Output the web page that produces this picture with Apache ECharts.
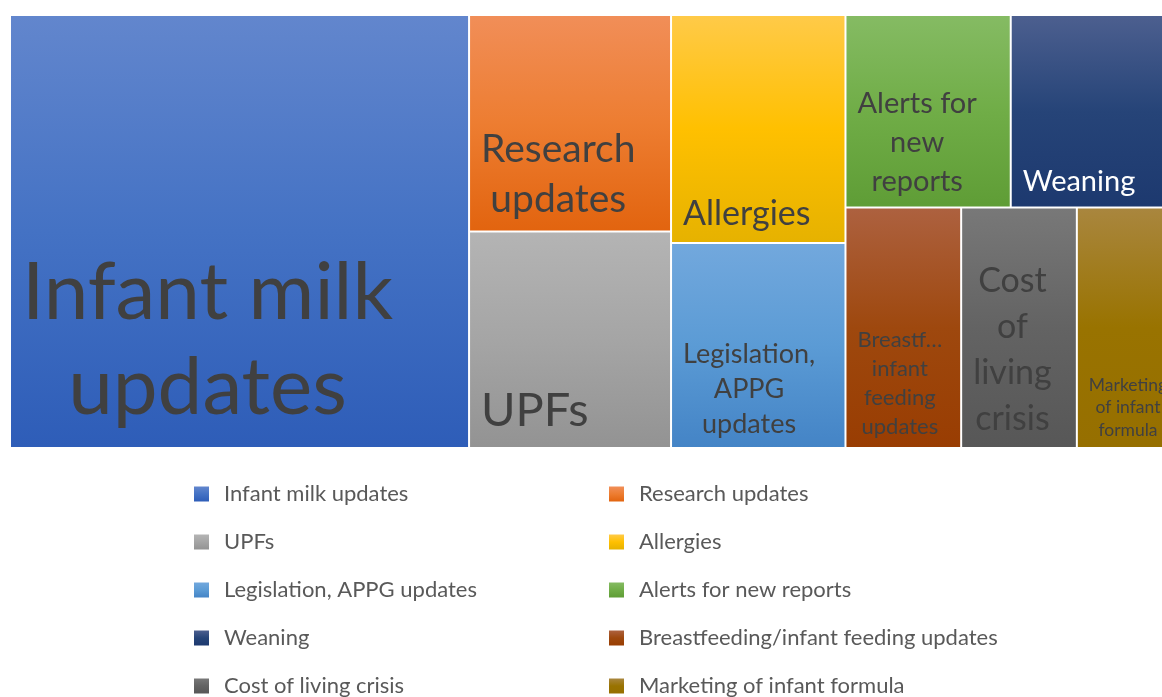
<!DOCTYPE html>
<html>
<head>
<meta charset="utf-8">
<title>Topics treemap</title>
<script src="https://cdn.jsdelivr.net/npm/echarts@6/dist/echarts.min.js"></script>
<style>
  html, body { margin: 0; padding: 0; background: #fff; }
  #chart { width: 1162px; height: 697px; }
</style>
</head>
<body>
<div id="chart"></div>
<script>
// topics (legend order) and how often each was chosen
const topics = [
  'Infant milk updates',
  'Research updates',
  'UPFs',
  'Allergies',
  'Legislation, APPG updates',
  'Alerts for new reports',
  'Weaning',
  'Breastfeeding/infant feeding updates',
  'Cost of living crisis',
  'Marketing of infant formula'
];
const counts = [50, 11, 11, 10, 9, 8, 8, 7, 7, 6];
// text inside each box, wrapped the way the original shows it
const cellText = [
  'Infant milk\nupdates',
  'Research\nupdates',
  'UPFs',
  'Allergies',
  'Legislation,\nAPPG\nupdates',
  'Alerts for\nnew\nreports',
  'Weaning',
  'Breastf\u2026\ninfant\nfeeding\nupdates',
  'Cost\nof\nliving\ncrisis',
  'Marketing\nof infant\nformula'
];

// look of the boxes: top / middle / bottom of the gradient
const fillStops = [
  ['#6286cd', '#4472c4', '#2e5db8'],
  ['#f18e58', '#ed7d31', '#e2640f'],
  ['#b4b4b4', '#a5a5a5', '#939393'],
  ['#ffca48', '#ffc000', '#e6b200'],
  ['#72a8dd', '#5b9bd5', '#4484c6'],
  ['#85bb63', '#70ad47', '#5f9d36'],
  ['#4c5f8f', '#264478', '#1d396f'],
  ['#ad613f', '#9e480e', '#993d02'],
  ['#787878', '#636363', '#575757'],
  ['#a9863e', '#997300', '#966f00']
];
const labelSize = [80, 39, 47, 34, 27, 29, 29, 22, 34, 17.5];
const labelPitch = [95, 50, 56, 42, 35, 39, 36, 29, 46, 22.5];
const FONT = 'Lato';

const chart = echarts.init(document.getElementById('chart'));

const fills = fillStops.map(s => new echarts.graphic.LinearGradient(0, 0, 0, 1, [
  { offset: 0, color: s[0] },
  { offset: 0.5, color: s[1] },
  { offset: 1, color: s[2] }
]));

const cells = topics.map((name, i) => ({
  name: name,
  value: counts[i],
  itemStyle: { color: fills[i] },
  label: {
    fontSize: labelSize[i],
    lineHeight: labelPitch[i],
    color: i === 6 ? '#ffffff' : '#404040'
  }
}));
// Excel puts these two side by side under "Alerts"; a borderless group
// makes the squarify layout do the same
const pair = {
  name: '',
  value: counts[7] + counts[8],
  children: cells.slice(7, 9),
  itemStyle: { borderWidth: 0, gapWidth: 0 }
};
const treeData = cells.slice(0, 7).concat([pair, cells[9]]);

const textIndex = {};
cellText.forEach((t, i) => { textIndex[t] = i; });

const legendCommon = {
  orient: 'vertical',
  top: 477,
  height: 300,
  icon: 'rect',
  itemWidth: 15,
  itemHeight: 15,
  itemGap: 24,
  selectedMode: false,
  textStyle: {
    fontFamily: FONT,
    fontSize: 22,
    lineHeight: 24,
    color: '#595959',
    padding: [0, 0, 0, 10]
  }
};

const option = {
  animation: false,
  textStyle: { fontFamily: FONT },
  legend: [
    Object.assign({}, legendCommon, { left: 189, data: topics.filter((t, i) => i % 2 === 0) }),
    Object.assign({}, legendCommon, { left: 604, data: topics.filter((t, i) => i % 2 === 1) })
  ],
  series: [
    {
      type: 'treemap',
      name: 'topics',
      left: 10,
      top: 15,
      width: 1166,
      height: 433,
      sort: false,
      squareRatio: 1.13,
      roam: false,
      nodeClick: false,
      breadcrumb: { show: false },
      levels: [
        { itemStyle: { borderWidth: 0, gapWidth: 0 } },
        { itemStyle: { borderWidth: 1, borderColor: '#ffffff', gapWidth: 0 } },
        { itemStyle: { borderWidth: 1, borderColor: '#ffffff', gapWidth: 0 } }
      ],
      label: {
        show: true,
        position: 'insideTop',
        fontFamily: FONT,
        padding: 0,
        distance: 0,
        formatter: p => cellText[topics.indexOf(p.name)]
      },
      upperLabel: { show: false },
      // bottom-left of each box, lines centred on each other like Excel does
      labelLayout: function (p) {
        const i = textIndex[p.text];
        if (i === undefined) return {};
        const n = p.text.split('\n').length;
        const lastMid = p.rect.y + p.rect.height - 0.67 * labelSize[i] - 5;
        return {
          x: p.rect.x + 11 + p.labelRect.width / 2,
          y: lastMid - (n - 0.5) * labelPitch[i],
          align: 'center',
          verticalAlign: 'top'
        };
      },
      data: treeData
    },
    {
      // only feeds the legend colours
      type: 'pie',
      name: 'legend',
      radius: 0,
      silent: true,
      stillShowZeroSum: false,
      showEmptyCircle: false,
      label: { show: false },
      labelLine: { show: false },
      data: topics.map((name, i) => ({ name: name, value: 0, itemStyle: { color: fills[i] } }))
    }
  ]
};

chart.setOption(option);
</script>
</body>
</html>
